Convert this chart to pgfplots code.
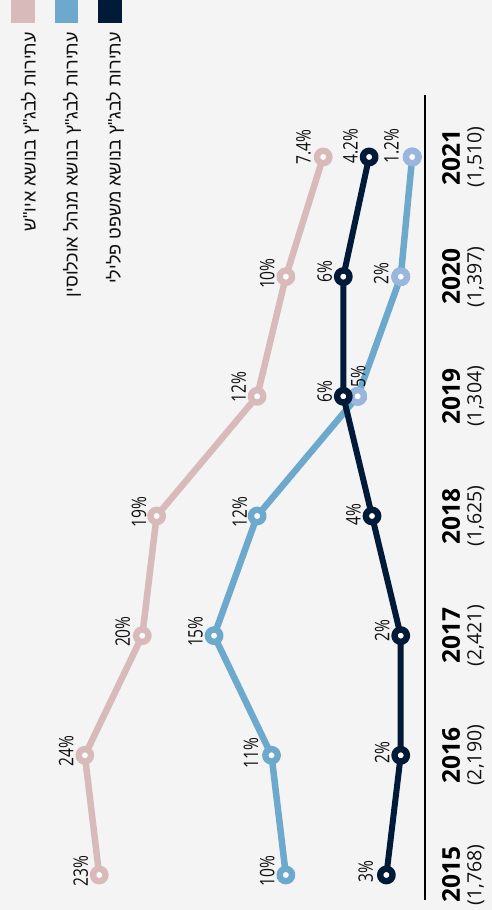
\documentclass[border=0pt]{standalone}
\usepackage{fontspec}
\usepackage{pgfplots}
\usepackage{pgfplotstable}
\pgfplotsset{compat=1.18}
\TeXXeTstate=1
\setmainfont{Open Sans}
\newfontfamily\labfont[FakeStretch=0.78]{Open Sans}
\newfontfamily\hebfont[Script=Hebrew]{Liberation Sans}

\definecolor{bg}{HTML}{F4F4F4}
\definecolor{rosec}{HTML}{D9BABB}
\definecolor{bluec}{HTML}{6CA9CC}
\definecolor{lavc}{HTML}{9AB5DE}
\definecolor{navyc}{HTML}{001A38}
\definecolor{txt}{HTML}{111111}

% year, share of petitions (%), label offset dx/dy in pt
\pgfplotstableread{
year val dx dy
2015 23 -8 4
2016 24 -8 4
2017 20 -9 4
2018 19 -7 4
2019 12 -8 9
2020 10 -8 3
2021 7.4 -9 10
}\aiush
\pgfplotstableread{
year val dx dy
2015 10 -8 4
2016 11 -10 2
2017 15 -8 4
2018 12 -7 4
2019 5 11 20
2020 2 -9 3
2021 1.2 -10 11
}\minhal
\pgfplotstableread{
year val dx dy
2015 3 -10 3
2016 2 -8 3
2017 2 -8 5
2018 4 -8 1
2019 6 -8 5
2020 6 -8 5
2021 4.2 -8 11
}\plili

\begin{document}
\begin{tikzpicture}
\path[fill=bg, use as bounding box] (0pt,0pt) rectangle (492pt,910pt);
\begin{axis}[
  name=ax,
  at={(0pt,10pt)}, anchor=south west,
  scale only axis, width=425pt, height=805pt,
  x dir=reverse,
  xmin=0.31, xmax=29.91,
  ymin=2014.791, ymax=2021.518,
  clip=false,
  hide x axis,
  axis line style={draw=none},
  major tick length=0pt,
  ytick={2015,...,2021},
  yticklabels={2015,2016,2017,2018,2019,2020,2021},
  yticklabel pos=right,
  yticklabel shift=17pt,
  yticklabel style={rotate=90, anchor=north, inner sep=0pt,
    font=\bfseries\fontsize{24.5}{26}\selectfont, text=black},
  extra y ticks={2015,...,2021},
  extra y tick labels={{(1,768)},{(2,190)},{(2,421)},{(1,625)},{(1,304)},{(1,397)},{(1,510)}},
  extra y tick style={yticklabel shift=42pt,
    yticklabel style={font=\fontsize{19.5}{21}\selectfont, text=txt}},
  point meta=explicit,
  lab/.style={nodes near coords={\pgfmathprintnumber{\pgfplotspointmeta}\%}},
  visualization depends on={\thisrow{dx} \as \labdx},
  visualization depends on={\thisrow{dy} \as \labdy},
  every node near coord/.append style={shift={(\labdx pt,\labdy pt)}, rotate=90,
    anchor=south, inner sep=0pt, font=\labfont\fontsize{20}{21}\selectfont, text=txt},
  /pgf/number format/assume math mode=true,
  every axis plot/.append style={line join=round, mark=*, mark size=6.2pt,
    mark options={fill=white, line width=6.4pt}},
]
\addplot[rosec, line width=6.5pt, lab] table[x=val, y=year, meta=val] {\aiush};
\addplot[bluec, line width=6.5pt, lab] table[x=val, y=year, meta=val] {\minhal};
\addplot[lavc, only marks, mark indices={5,6,7}] table[x=val, y=year, meta=val] {\minhal};
\addplot[navyc, line width=6pt, lab] table[x=val, y=year, meta=val] {\plili};
\end{axis}
\draw[line width=1.6pt, black] (ax.south east) -- (ax.north east);

% legend
\fill[rosec] (11pt,887pt) rectangle (35pt,910pt);
\fill[bluec] (55pt,887pt) rectangle (78pt,910pt);
\fill[navyc] (98pt,887pt) rectangle (122pt,910pt);
\begin{scope}[every node/.style={rotate=90, anchor=east, inner sep=0pt,
    font=\hebfont\fontsize{18}{20}\selectfont, text=txt}]
\node at (30pt,878pt) {\beginR עתירות לבג"ץ בנושא איו"ש\endR};
\node at (72pt,878pt) {\beginR עתירות לבג"ץ בנושא מנהל אוכלוסין\endR};
\node at (115pt,878pt) {\beginR עתירות לבג"ץ בנושא משפט פלילי\endR};
\end{scope}
\end{tikzpicture}
\end{document}
